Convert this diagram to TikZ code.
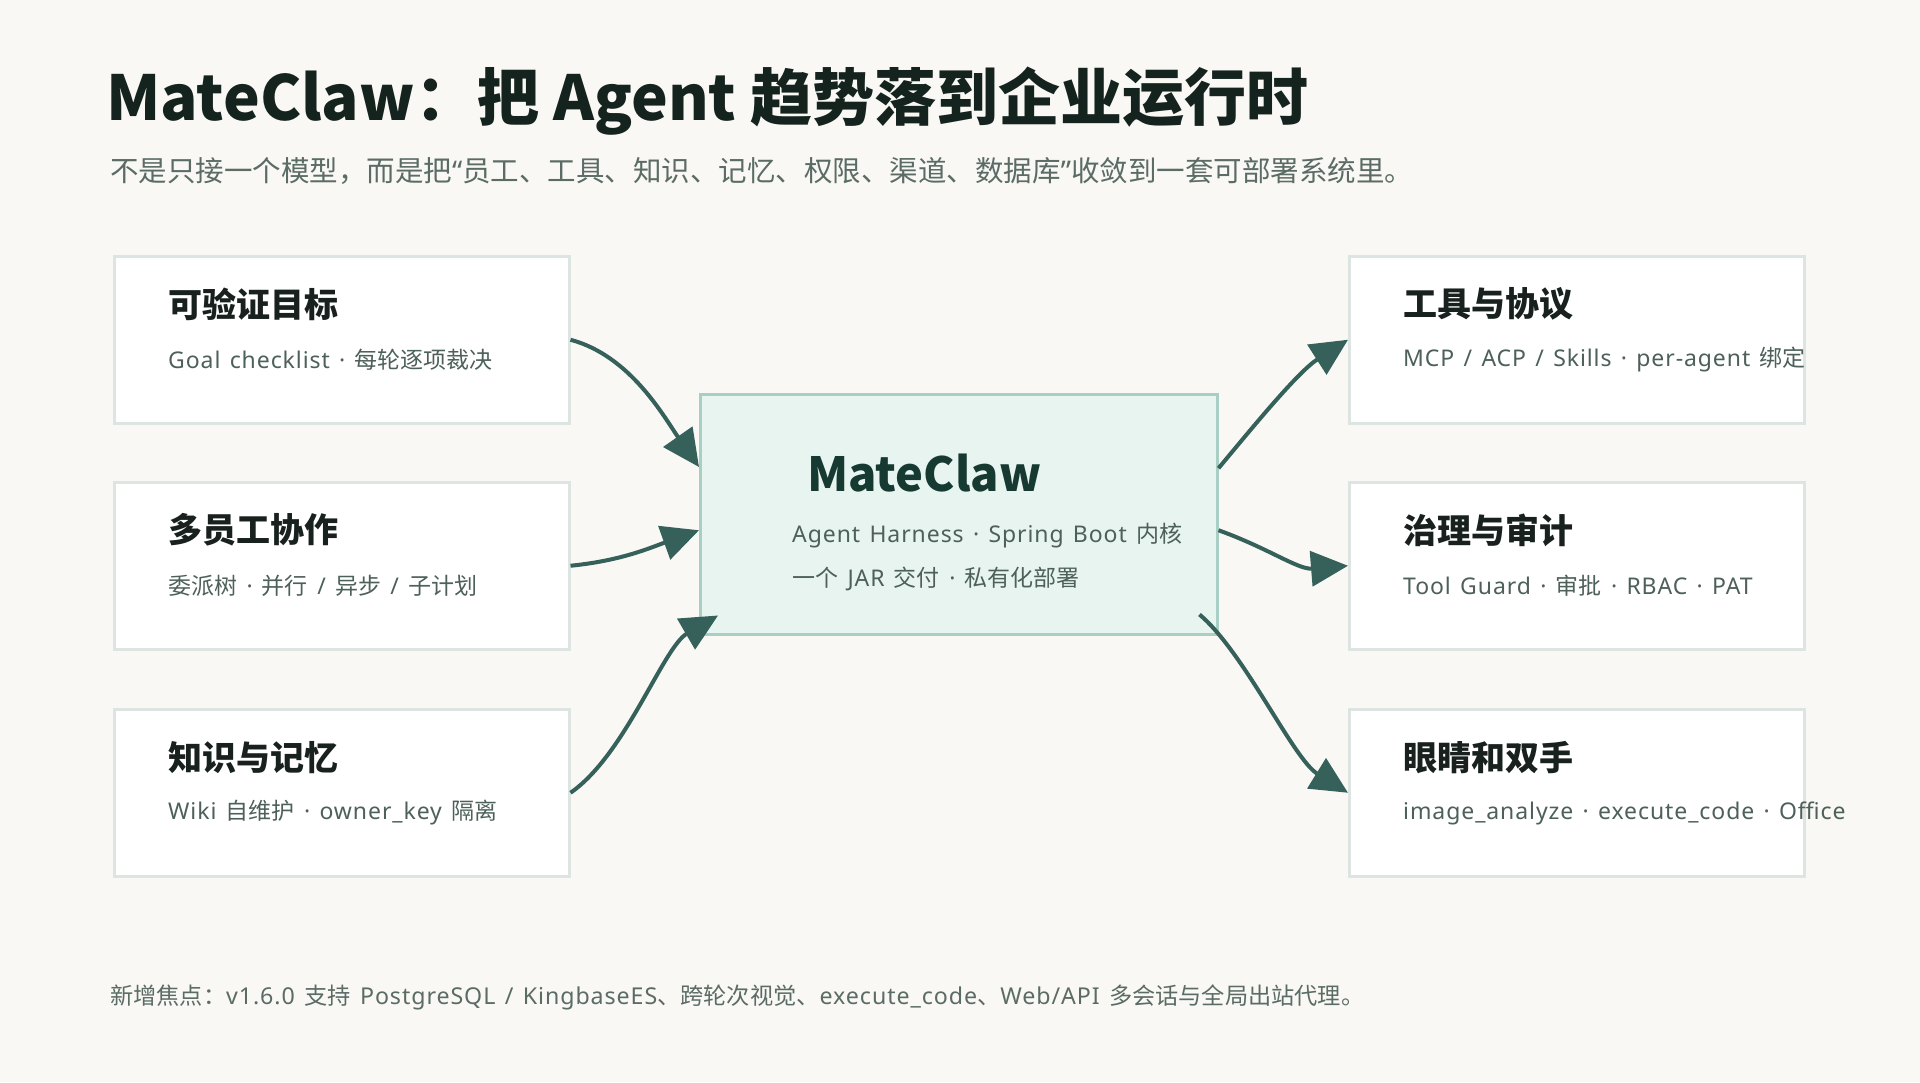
\documentclass[tikz,border=0pt]{standalone}
\usepackage{fontspec}
\setmainfont{Noto Sans}[LetterSpace=4,WordSpace=1.35]
\newfontfamily\cjkfont{Noto Sans CJK SC}
\XeTeXinterchartokenstate=1
\newXeTeXintercharclass\CJKcls
\newcount\ccnt
\def\setcjkrange#1#2{\ccnt=#1\relax\loop\XeTeXcharclass\ccnt=\CJKcls\relax\ifnum\ccnt<#2\relax\advance\ccnt by 1\relax\repeat}
\setcjkrange{"4E00}{"9FFF}
\setcjkrange{"3000}{"303F}
\setcjkrange{"FF00}{"FFEF}
\XeTeXcharclass"201C=0
\XeTeXcharclass"201D=0
\XeTeXcharclass"00B7=0
\XeTeXinterchartoks 0 \CJKcls = {\cjkfont}
\XeTeXinterchartoks 4095 \CJKcls = {\cjkfont}
\XeTeXinterchartoks \CJKcls 0 = {\rmfamily}
\XeTeXinterchartoks \CJKcls 4095 = {\rmfamily}
\usetikzlibrary{arrows.meta}
\definecolor{bg}{HTML}{F9F8F4}
\definecolor{titlec}{HTML}{15231F}
\definecolor{subc}{HTML}{5B6B65}
\definecolor{cardline}{HTML}{DCE5E1}
\definecolor{cardtitle}{HTML}{18211E}
\definecolor{cardsub}{HTML}{4D6059}
\definecolor{corefill}{HTML}{E7F4F0}
\definecolor{coreline}{HTML}{A9CFC4}
\definecolor{coretitle}{HTML}{163A31}
\definecolor{arrowc}{HTML}{36605A}
\newcommand{\fs}[1]{\fontsize{#1}{#1}\selectfont}
\newcommand{\pureCJK}{\XeTeXinterchartokenstate=0 \cjkfont}
\begin{document}
\begin{tikzpicture}[x=1pt,y=-1pt,
  card/.style={draw=cardline, line width=2.5pt, fill=white, minimum width=455pt, minimum height=167pt, inner sep=0pt, anchor=north west},
  core/.style={draw=coreline, line width=2.5pt, fill=corefill, minimum width=517pt, minimum height=240pt, inner sep=0pt, anchor=north west},
  txt/.style={inner sep=0pt, anchor=west},
  ctitle/.style={txt, text=cardtitle, font=\pureCJK\fs{34}\bfseries},
  csub/.style={txt, text=cardsub, font=\fs{23}},
  link/.style={draw=arrowc, line width=4pt, -{Triangle[length=37pt,width=35pt]}}
]
\fill[bg] (0,0) rectangle (1920,1082);
\useasboundingbox (0,0) rectangle (1920,1082);

% heading
\node[txt, text=titlec, font=\pureCJK\fs{62}\bfseries] (title) at (106,101) {MateClaw：把 Agent 趋势落到企业运行时};
\node[txt, text=subc, font=\fs{28.5}] (subtitle) at (110,171) {不是只接一个模型，而是把“员工、工具、知识、记忆、权限、渠道、数据库”收敛到一套可部署系统里。};

% left cards
\node[card] (L1) at (113,255) {};
\node[card] (L2) at (113,481) {};
\node[card] (L3) at (113,708) {};
\node[ctitle] (L1t) at (168,304) {可验证目标};
\node[csub]   (L1s) at (168,360) {Goal checklist · 每轮逐项裁决};
\node[ctitle] (L2t) at (168,530) {多员工协作};
\node[csub]   (L2s) at (168,586) {委派树 · 并行 / 异步 / 子计划};
\node[ctitle] (L3t) at (168,758) {知识与记忆};
\node[csub]   (L3s) at (168,813) {Wiki 自维护 · owner\_key 隔离};

% right cards
\node[card] (R1) at (1348,255) {};
\node[card] (R2) at (1348,481) {};
\node[card] (R3) at (1348,708) {};
\node[ctitle] (R1t) at (1403,304) {工具与协议};
\node[csub]   (R1s) at (1403,360) {MCP / ACP / Skills · per-agent 绑定};
\node[ctitle] (R2t) at (1403,530) {治理与审计};
\node[csub]   (R2s) at (1403,586) {Tool Guard · 审批 · RBAC · PAT};
\node[ctitle] (R3t) at (1403,758) {眼睛和双手};
\node[csub]   (R3s) at (1403,813) {image\_analyze · execute\_code · Office};

% core
\node[core] (C) at (699,393) {};
\node[txt, text=coretitle, font=\pureCJK\fs{47}\bfseries] (Ct) at (807,473) {MateClaw};
\node[csub] (Cs1) at (792,536) {Agent Harness · Spring Boot 内核};
\node[csub] (Cs2) at (792,579) {一个 JAR 交付 · 私有化部署};

% footer
\node[txt, text=subc, font=\fs{23.2}] (foot) at (110,997) {新增焦点：v1.6.0 支持 PostgreSQL / KingbaseES、跨轮次视觉、execute\_code、Web/API 多会话与全局出站代理。};

% connectors
\draw[link] (L1.east) .. controls +(60,16) and +(-35,-50) .. ([yshift=-74pt]C.north west);
\draw[link] (L2.east) .. controls +(50,-5) and +(-50,18) .. ([yshift=-16pt]C.west);
\draw[link] (L3.east) .. controls +(55,-38) and +(-55,32) .. ([xshift=19pt,yshift=20pt]C.south west);
\draw[link] ([yshift=46pt]C.east) .. controls +(35,-42) and +(-50,32) .. (R1.west);
\draw[link] ([yshift=-16pt]C.east) .. controls +(50,18) and +(-50,4) .. (R2.west);
\draw[link] ([xshift=-19pt,yshift=21pt]C.south east) .. controls +(45,38) and +(-55,-34) .. (R3.west);
\end{tikzpicture}
\end{document}
